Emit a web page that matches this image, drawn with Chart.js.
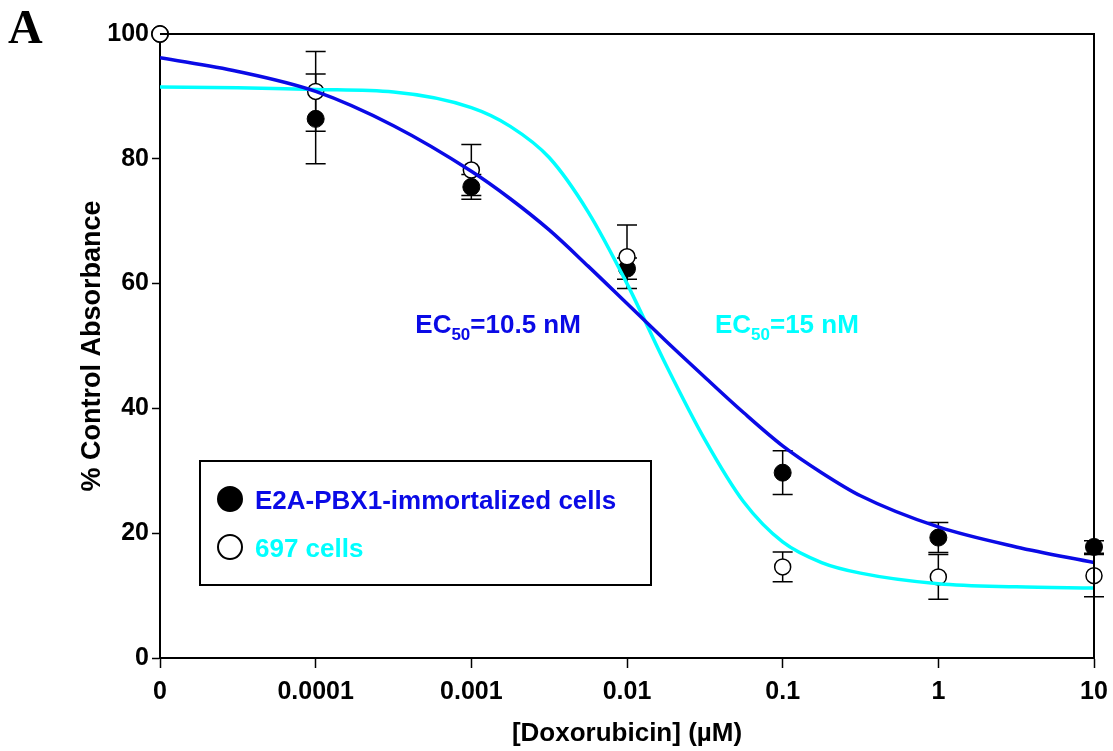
<!DOCTYPE html>
<html>
<head>
<meta charset="utf-8">
<script src="https://cdn.jsdelivr.net/npm/chart.js@4.4.0/dist/chart.umd.min.js"></script>
<style>
  html, body { margin: 0; padding: 0; background: #fff; }
  #wrap { width: 1113px; height: 751px; }
</style>
</head>
<body>
<div id="wrap"><canvas id="chart" width="1113" height="751"></canvas></div>
<script>
// dose steps are drawn equally spaced, so x is the step index 0..6
const doseLabels = ['0', '0.0001', '0.001', '0.01', '0.1', '1', '10'];
const doseIndex = [0, 1, 2, 3, 4, 5, 6];

// measured points (% control absorbance) and error bars
const e2aMean = [100, 86.4, 75.5, 62.4, 29.7, 19.3, 17.8];
const e2aErr = [0, 7.2, 2.0, 1.7, 3.5, 2.4, 1.0];
const cells697Mean = [100, 90.8, 78.2, 64.3, 14.6, 13.0, 13.2];
const cells697Err = [0, 6.4, 4.1, 5.1, 2.4, 3.6, 3.4];

// fitted curves at these step positions
const fitX = [0, 0.5, 1, 1.5, 2, 2.25, 2.5, 2.75, 3, 3.25, 3.5, 3.75, 4, 4.25, 4.5, 5, 5.5, 6];
const e2aFit = [96.2, 94.0, 90.8, 85.3, 78.0, 73.6, 68.6, 62.8, 56.8, 50.8, 45.0, 39.3, 34.0, 29.7, 26.0, 21.0, 17.8, 15.3];
const cells697Fit = [91.5, 91.4, 91.1, 90.7, 88.2, 85.2, 80.2, 71.5, 60.0, 47.0, 35.0, 25.0, 18.6, 15.3, 13.6, 11.9, 11.4, 11.2];

const FONT = "'Liberation Sans', Arial, Helvetica, sans-serif";
const BLUE = '#0a0ae6';
const CYAN = '#00ffff';

const toXY = (xs, ys) => xs.map((x, i) => ({ x: x, y: ys[i] }));

const errorBars = {
  id: 'errorBars',
  beforeDatasetsDraw(chart) {
    const ctx = chart.ctx;
    const xs = chart.scales.x, ys = chart.scales.y;
    ctx.save();
    ctx.strokeStyle = '#000';
    ctx.lineWidth = 1.5;
    chart.data.datasets.forEach(ds => {
      if (!ds.errors) return;
      ds.data.forEach((p, i) => {
        const e = ds.errors[i];
        if (!e) return;
        const px = xs.getPixelForValue(p.x);
        const top = ys.getPixelForValue(p.y + e);
        const bot = ys.getPixelForValue(p.y - e);
        ctx.beginPath();
        ctx.moveTo(px, top); ctx.lineTo(px, bot);
        ctx.moveTo(px - 10, top); ctx.lineTo(px + 10, top);
        ctx.moveTo(px - 10, bot); ctx.lineTo(px + 10, bot);
        ctx.stroke();
      });
    });
    ctx.restore();
  }
};

function drawEC(ctx, x, y, value, color) {
  ctx.fillStyle = color;
  ctx.textAlign = 'left';
  ctx.textBaseline = 'alphabetic';
  ctx.font = 'bold 26px ' + FONT;
  ctx.fillText('EC', x, y);
  x += ctx.measureText('EC').width;
  ctx.font = 'bold 17px ' + FONT;
  ctx.fillText('50', x, y + 7);
  x += ctx.measureText('50').width;
  ctx.font = 'bold 26px ' + FONT;
  ctx.fillText('=' + value, x, y);
}

const decorations = {
  id: 'decorations',
  afterDraw(chart) {
    const ctx = chart.ctx;
    const a = chart.chartArea;
    const xs = chart.scales.x, ys = chart.scales.y;
    ctx.save();
    // top and right frame lines
    ctx.strokeStyle = '#000';
    ctx.lineWidth = 2;
    ctx.beginPath();
    ctx.moveTo(a.left, a.top); ctx.lineTo(a.right, a.top); ctx.lineTo(a.right, a.bottom);
    ctx.stroke();

    // EC50 labels
    drawEC(ctx, xs.getPixelForValue(1.64), ys.getPixelForValue(52.1), '10.5 nM', BLUE);
    drawEC(ctx, xs.getPixelForValue(3.565), ys.getPixelForValue(52.1), '15 nM', CYAN);

    // legend box
    const bx = a.left + 40, by = a.top + 427;
    ctx.lineWidth = 2;
    ctx.strokeStyle = '#000';
    ctx.fillStyle = '#fff';
    ctx.fillRect(bx, by, 451, 124);
    ctx.strokeRect(bx, by, 451, 124);
    const items = [
      { ds: chart.data.datasets[3], color: BLUE, cy: by + 38 },
      { ds: chart.data.datasets[2], color: CYAN, cy: by + 86 }
    ];
    items.forEach(it => {
      ctx.beginPath();
      ctx.arc(bx + 30, it.cy, 12, 0, Math.PI * 2);
      ctx.fillStyle = it.ds.pointBackgroundColor;
      ctx.fill();
      ctx.lineWidth = 2;
      ctx.strokeStyle = '#000';
      ctx.stroke();
      ctx.fillStyle = it.color;
      ctx.font = 'bold 26px ' + FONT;
      ctx.textBaseline = 'alphabetic';
      ctx.fillText(it.ds.label, bx + 55, it.cy + 10);
    });

    // panel letter
    ctx.fillStyle = '#000';
    ctx.font = "bold 48px 'Liberation Serif', 'Times New Roman', serif";
    ctx.fillText('A', 8, 43);
    ctx.restore();
  }
};

new Chart(document.getElementById('chart'), {
  type: 'line',
  data: {
    datasets: [
      {
        label: 'E2A-PBX1 fit',
        data: toXY(fitX, e2aFit),
        borderColor: BLUE,
        borderWidth: 3.5,
        pointRadius: 0,
        cubicInterpolationMode: 'monotone',
        fill: false
      },
      {
        label: '697 fit',
        data: toXY(fitX, cells697Fit),
        borderColor: CYAN,
        borderWidth: 3.5,
        pointRadius: 0,
        cubicInterpolationMode: 'monotone',
        fill: false
      },
      {
        label: '697 cells',
        data: toXY(doseIndex, cells697Mean),
        errors: cells697Err,
        showLine: false,
        pointRadius: 8,
        pointBackgroundColor: '#fff',
        pointBorderColor: '#000',
        pointBorderWidth: 1.5,
        clip: false
      },
      {
        label: 'E2A-PBX1-immortalized cells',
        data: toXY(doseIndex, e2aMean),
        errors: e2aErr,
        showLine: false,
        pointRadius: 8.5,
        pointBackgroundColor: '#000',
        pointBorderColor: '#000',
        pointBorderWidth: 1,
        clip: false
      }
    ]
  },
  options: {
    responsive: false,
    animation: false,
    devicePixelRatio: 1,
    layout: { padding: { top: 34, right: 19, left: 0, bottom: 0 } },
    plugins: {
      legend: { display: false },
      tooltip: { enabled: false }
    },
    scales: {
      x: {
        type: 'linear',
        min: 0,
        max: 6,
        afterFit: s => { s.height = 93; s.paddingLeft = 0; s.paddingRight = 0; },
        afterBuildTicks: s => { s.ticks = doseIndex.map(v => ({ value: v })); },
        ticks: {
          callback: v => doseLabels[v],
          color: '#000',
          font: { family: FONT, size: 25, weight: 'bold' },
          padding: 9,
          maxRotation: 0,
          autoSkip: false
        },
        grid: { drawOnChartArea: false, drawTicks: true, tickLength: 10, tickColor: '#000', tickWidth: 1.5 },
        border: { color: '#000', width: 2 },
        title: {
          display: true,
          text: '[Doxorubicin] (µM)',
          color: '#000',
          font: { family: FONT, size: 26, weight: 'bold' },
          padding: { top: 0, bottom: 2 }
        }
      },
      y: {
        min: 0,
        max: 100,
        afterFit: s => { s.width = 160; s.paddingTop = 0; s.paddingBottom = 0; },
        ticks: {
          stepSize: 20,
          color: '#000',
          font: { family: FONT, size: 25, weight: 'bold' },
          padding: 3
        },
        grid: { drawOnChartArea: false, drawTicks: true, tickLength: 8, tickColor: '#000', tickWidth: 1.5 },
        border: { color: '#000', width: 2 },
        title: {
          display: true,
          text: '% Control Absorbance',
          color: '#000',
          font: { family: FONT, size: 27, weight: 'bold' },
          padding: { top: 76, bottom: 0 }
        }
      }
    }
  },
  plugins: [errorBars, decorations]
});
</script>
</body>
</html>
